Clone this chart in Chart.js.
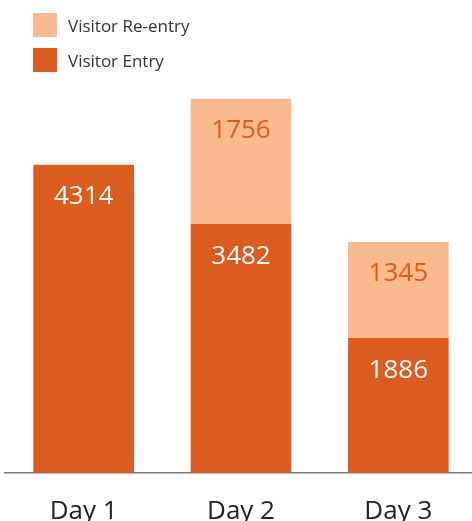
<!DOCTYPE html>
<html>
<head>
<meta charset="utf-8">
<script src="https://cdn.jsdelivr.net/npm/chart.js@4"></script>
<style>
    html, body { margin: 0; padding: 0; background: #fff; overflow: hidden; }
    #wrap { position: relative; width: 480px; height: 550px; }
    #legend { position: absolute; left: 33px; top: 13px; font-family: "Open Sans", sans-serif; font-size: 17px; color: #333; }
    .item { display: flex; align-items: center; height: 24px; margin-bottom: 11px; }
    .box { width: 24px; height: 24px; margin-right: 11px; }
</style>
</head>
<body>
<div id="wrap">
    <canvas id="chart" width="480" height="550"></canvas>
    <div id="legend"></div>
</div>
<script>
const days = ['Day 1', 'Day 2', 'Day 3'];
const visitorEntry = [4314, 3482, 1886];
const visitorReentry = [null, 1756, 1345];
const yMax = 5500;

const darkOrange = '#dc5b1e';
const lightOrange = '#f9ba8e';

// value labels drawn inside each segment near its top
const segmentLabels = {
    id: 'segmentLabels',
    afterDatasetsDraw(chart) {
        const ctx = chart.ctx;
        ctx.save();
        ctx.font = '26px "Open Sans", sans-serif';
        ctx.textAlign = 'center';
        ctx.textBaseline = 'middle';
        chart.data.datasets.forEach((ds, i) => {
            const meta = chart.getDatasetMeta(i);
            meta.data.forEach((bar, j) => {
                const v = ds.data[j];
                if (v == null) return;
                ctx.fillStyle = ds.labelColor;
                ctx.fillText(String(v), bar.x, bar.y + 32);
            });
        });
        ctx.restore();
    }
};

const ctx = document.getElementById('chart').getContext('2d');
const chart = new Chart(ctx, {
    type: 'bar',
    data: {
        labels: days,
        datasets: [{
            label: 'Visitor Entry',
            data: visitorEntry,
            backgroundColor: darkOrange,
            labelColor: '#ffffff',
            barPercentage: 0.64,
            categoryPercentage: 1
        }, {
            label: 'Visitor Re-entry',
            data: visitorReentry,
            backgroundColor: lightOrange,
            labelColor: darkOrange,
            barPercentage: 0.64,
            categoryPercentage: 1
        }]
    },
    options: {
        responsive: false,
        animation: false,
        layout: {
            padding: { top: 80, left: 5, right: 3, bottom: 0 }
        },
        plugins: {
            legend: { display: false },
            tooltip: { enabled: false }
        },
        scales: {
            x: {
                stacked: true,
                grid: { display: false, drawTicks: false },
                border: { display: true, color: '#777', width: 1.5 },
                ticks: {
                    color: '#222',
                    padding: 23,
                    font: { family: 'Open Sans', size: 26 }
                }
            },
            y: {
                stacked: true,
                display: false,
                min: 0,
                max: yMax
            }
        }
    },
    plugins: [segmentLabels]
});

// legend built from the datasets, re-entry first
const legend = document.getElementById('legend');
chart.data.datasets.slice().reverse().forEach(ds => {
    const item = document.createElement('div');
    item.className = 'item';
    item.innerHTML = '<span class="box" style="background:' + ds.backgroundColor + '"></span>' + ds.label;
    legend.appendChild(item);
});
</script>
</body>
</html>
